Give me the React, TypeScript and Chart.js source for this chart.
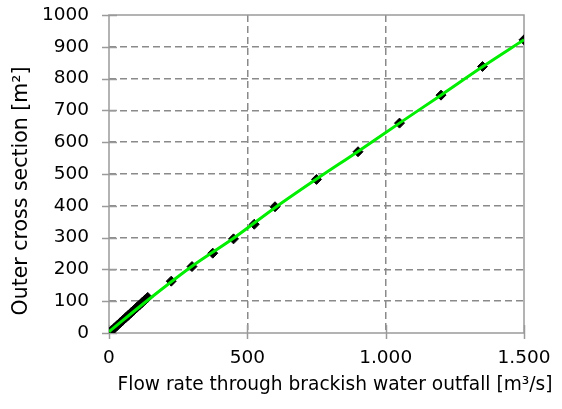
import { useEffect, useRef } from "react";
import { Chart, registerables } from "chart.js";

Chart.register(...registerables);

// Measured sizing points: flow rate [m³/s] vs. outer cross section [m²]
const flowRates = [0, 10, 20, 30, 40, 50, 60, 70, 80, 90, 100, 110, 120, 130, 140, 225, 300, 375, 450, 525, 600, 750, 900, 1050, 1200, 1350, 1500];
const crossSections = [0, 8, 16, 24, 32, 40, 48, 56, 64, 72, 80, 88, 96, 104, 112, 163, 209, 251, 296, 342, 397, 483, 570, 660, 748, 838, 922];

// Fitted trend curve
const fitFlowRates = [0, 150, 300, 450, 600, 750, 900, 1050, 1200, 1350, 1500];
const fitCrossSections = [4, 110, 210, 298, 394, 484, 571, 660, 748, 837, 922];

const xTickValues = [0, 500, 1000, 1500];
const yTickValues = [0, 100, 200, 300, 400, 500, 600, 700, 800, 900, 1000];

const xTitle = "Flow rate through brackish water outfall [m³/s]";
const yTitle = "Outer cross section [m²]";

const FONT = "'DejaVu Sans', Verdana, sans-serif";
const AXIS_GRAY = "#9a9a9a";
const GRID_GRAY = "#8a8a8a";

const formatThousands = (v: number) =>
  String(Math.round(v)).replace(/\B(?=(\d{3})+(?!\d))/g, ".");

// Plot frame and tick marks that cross the axis lines
const framePlugin = {
  id: "frame",
  beforeDatasetsDraw(chart: any) {
    const { ctx, chartArea, scales } = chart;
    const { left, right, top, bottom } = chartArea;
    ctx.save();
    ctx.strokeStyle = AXIS_GRAY;
    ctx.lineWidth = 1.5;
    ctx.strokeRect(left, top, right - left, bottom - top);
    ctx.beginPath();
    for (const v of yTickValues) {
      const y = Math.round(scales.y.getPixelForValue(v)) + 0.5;
      ctx.moveTo(left - 7, y);
      ctx.lineTo(left + 8, y);
    }
    for (const v of xTickValues) {
      const x = Math.round(scales.x.getPixelForValue(v)) + 0.5;
      ctx.moveTo(x, bottom - 8);
      ctx.lineTo(x, bottom + 6);
    }
    ctx.stroke();
    ctx.restore();
  },
  afterDraw(chart: any) {
    const { ctx } = chart;
    ctx.save();
    ctx.fillStyle = "#000";
    ctx.textAlign = "center";
    ctx.textBaseline = "middle";
    ctx.font = `18.6px ${FONT}`;
    ctx.fillText(xTitle, 335, 385);
    ctx.translate(22, 191);
    ctx.rotate(-Math.PI / 2);
    ctx.font = `20.5px ${FONT}`;
    ctx.fillText(yTitle, 0, 0);
    ctx.restore();
  },
};

function OutfallChart() {
  const canvasRef = useRef<HTMLCanvasElement | null>(null);

  useEffect(() => {
    const canvas = canvasRef.current;
    if (!canvas) return;
    const chart = new Chart(canvas, {
      type: "scatter",
      data: {
        datasets: [
          {
            label: "Trend",
            data: fitFlowRates.map((x, i) => ({ x, y: fitCrossSections[i] })),
            showLine: true,
            borderColor: "#00ee00",
            borderWidth: 3,
            pointRadius: 0,
            tension: 0.4,
            cubicInterpolationMode: "monotone",
            order: 0,
          },
          {
            label: "Cross section",
            data: flowRates.map((x, i) => ({ x, y: crossSections[i] })),
            showLine: false,
            pointStyle: "rectRot",
            pointRadius: 5,
            backgroundColor: "#000",
            borderColor: "#000",
            borderWidth: 1,
            order: 1,
          },
        ],
      },
      options: {
        responsive: false,
        animation: false,
        devicePixelRatio: 1,
        layout: { padding: { left: 0, right: 38, top: 15, bottom: 0 } },
        plugins: {
          legend: { display: false },
          tooltip: { enabled: false },
        },
        scales: {
          x: {
            type: "linear",
            min: 0,
            max: 1500,
            afterBuildTicks: (scale: any) => {
              scale.ticks = xTickValues.map((value) => ({ value }));
            },
            afterFit: (scale: any) => {
              scale.height = 76;
              scale.paddingLeft = 0;
              scale.paddingRight = 0;
            },
            grid: {
              color: (c: any) => (c.tick && (c.tick.value === 0 || c.tick.value === 1500) ? "rgba(0,0,0,0)" : GRID_GRAY),
              lineWidth: 1.5,
              drawTicks: false,
            },
            border: { display: false, dash: [7, 4] },
            ticks: {
              padding: 14,
              color: "#000",
              font: { family: FONT, size: 18.5 },
              maxRotation: 0,
              callback: (v: any) => formatThousands(Number(v)),
            },
          },
          y: {
            type: "linear",
            min: 0,
            max: 1000,
            afterBuildTicks: (scale: any) => {
              scale.ticks = yTickValues.map((value) => ({ value }));
            },
            afterFit: (scale: any) => {
              scale.width = 109;
              scale.paddingTop = 0;
              scale.paddingBottom = 0;
            },
            grid: {
              color: (c: any) => (c.tick && (c.tick.value === 0 || c.tick.value === 1000) ? "rgba(0,0,0,0)" : GRID_GRAY),
              lineWidth: 1.5,
              drawTicks: false,
            },
            border: { display: false, dash: [7, 4] },
            ticks: {
              padding: 20,
              color: "#000",
              font: { family: FONT, size: 18.5 },
              callback: (v: any) => String(v),
            },
          },
        },
      },
      plugins: [framePlugin],
    });
    return () => chart.destroy();
  }, []);

  return <canvas ref={canvasRef} width={562} height={409} />;
}

export default function App() {
  return (
    <div style={{ position: "absolute", left: 0, top: 0, width: 562, height: 409, background: "#fff" }}>
      <OutfallChart />
    </div>
  );
}
